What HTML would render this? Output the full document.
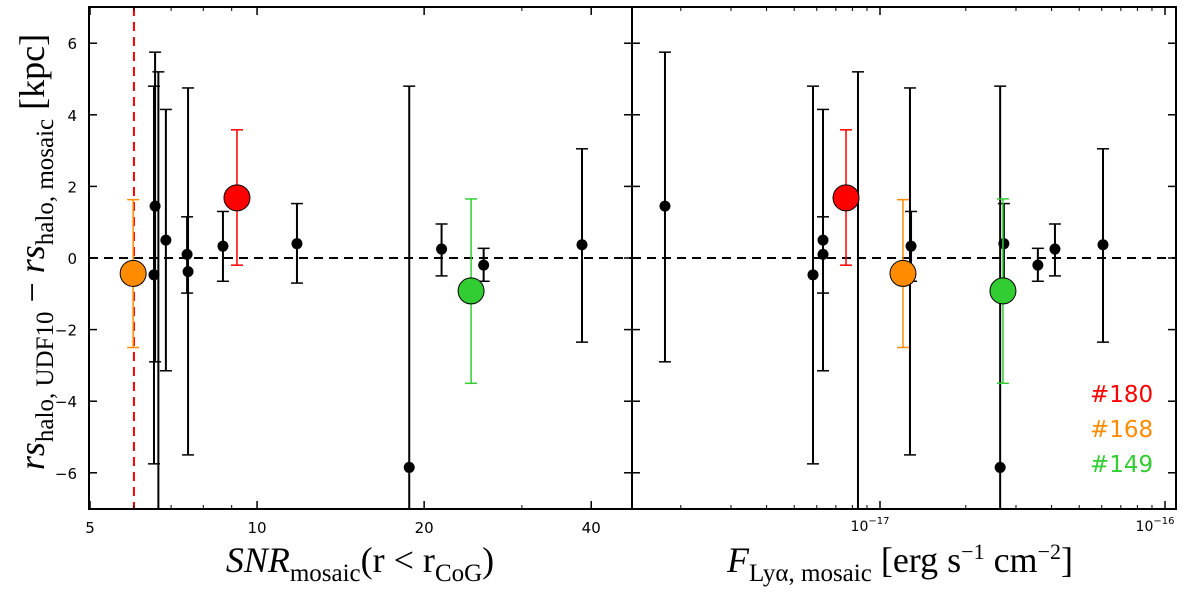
<!DOCTYPE html>
<html><head><meta charset="utf-8"><style>
body{margin:0;background:#fff;width:1200px;height:602px;overflow:hidden}
svg text{font-family:"DejaVu Sans","Liberation Sans",sans-serif}
.ser{font-family:"Liberation Serif","DejaVu Serif",serif}
</style></head><body>
<svg id="chart" width="1200" height="602" xmlns="http://www.w3.org/2000/svg">
<g id="plot"></g>
<text class="ser" transform="translate(44,252) rotate(-90)" text-anchor="middle" font-size="36"><tspan font-style="italic">rs</tspan><tspan font-size="25" dy="9">halo, UDF10</tspan><tspan dy="-9"> − </tspan><tspan font-style="italic">rs</tspan><tspan font-size="25" dy="9">halo, mosaic</tspan><tspan dy="-9"> [kpc]</tspan></text>
<text class="ser" x="360" y="572" text-anchor="middle" font-size="36"><tspan font-style="italic">SNR</tspan><tspan font-size="25" dy="9">mosaic</tspan><tspan dy="-9">(r &lt; r</tspan><tspan font-size="25" dy="9">CoG</tspan><tspan dy="-9">)</tspan></text>
<text class="ser" x="900" y="572" text-anchor="middle" font-size="36"><tspan font-style="italic">F</tspan><tspan font-size="25" dy="9">Lyα, mosaic</tspan><tspan dy="-9"> [erg s</tspan><tspan font-size="22" dy="-13">−1</tspan><tspan dy="13"> cm</tspan><tspan font-size="22" dy="-13">−2</tspan><tspan dy="13">]</tspan></text>
<text x="1090" y="402" font-size="23" fill="#ff0000">#180</text>
<text x="1090" y="437" font-size="23" fill="#ff8c00">#168</text>
<text x="1090" y="472" font-size="23" fill="#32cd32">#149</text>
</svg>
<script>
const snr   = [6.55,6.52,6.64,6.85,7.48,7.51,8.68,11.8,18.8,21.5,25.6,38.5];
const flux  = [0.176,0.582,0.837,0.631,0.631,1.274,1.285,2.72,2.64,4.11,3.58,6.06];
const rs    = [1.45,-0.47,-8,0.5,0.1,-0.38,0.33,0.4,-5.85,0.25,-0.2,0.37];
const errLo = [-2.9,-5.75,-9,-3.15,-0.98,-5.5,-0.65,-0.7,-9,-0.5,-0.65,-2.35];
const errHi = [5.75,4.8,5.2,4.15,1.15,4.75,1.3,1.52,4.8,0.95,0.27,3.05];
const hlIds   = ["180","168","149"];
const hlColors= ["#ff0000","#ff8c00","#32cd32"];
const hlSnr   = [9.2,5.98,24.3];
const hlFlux  = [0.76,1.204,2.70];
const hlRs    = [1.68,-0.43,-0.92];
const hlLo    = [-0.2,-2.5,-3.5];
const hlHi    = [3.58,1.63,1.65];
const snrCut = 6.0;
const yTicks=[-6,-4,-2,0,2,4,6];
const snrTicks=[5,10,20,40];
const snrTickLabels=["5","10","20","40"];

const NS="http://www.w3.org/2000/svg";
const plot=document.getElementById('plot');
const T=7,B=509;
const L1=89,R1=632,L2=632,R2=1176;
const yS=v=>258-v*35.8;
const xS1=v=>90+555*Math.log10(v/5);
const xS2=v=>880+285*Math.log10(v);
function mk(tag,at,parent){const e=document.createElementNS(NS,tag);for(const k in at)e.setAttribute(k,at[k]);(parent||plot).appendChild(e);return e;}
function panel(id,L,R,xS,xs,ys,los,his,clip){
  const g=mk('g',{'clip-path':'url(#'+clip+')'});
  
  
  mk('line',{x1:L,x2:R,y1:yS(0),y2:yS(0),stroke:'#000','stroke-width':2,'stroke-dasharray':'9,6'},g);
  for(let i=0;i<xs.length;i++){
    const x=xS(xs[i]);
    const b=mk('line',{x1:x,x2:x,y1:yS(his[i]),y2:yS(los[i]),stroke:'#000','stroke-width':2},g);
    
    
    mk('line',{x1:x-6,x2:x+6,y1:yS(his[i]),y2:yS(his[i]),stroke:'#000','stroke-width':1.5},g);
    mk('line',{x1:x-6,x2:x+6,y1:yS(los[i]),y2:yS(los[i]),stroke:'#000','stroke-width':1.5},g);
    const c=mk('circle',{cx:x,cy:yS(ys[i]),r:5.5,fill:'#000'},g);
    
    
  }
  return g;
}
const defs=mk('defs',{});
const c1=mk('clipPath',{id:'c1'},defs);mk('rect',{x:L1,y:T,width:R1-L1,height:B-T},c1);
const c2=mk('clipPath',{id:'c2'},defs);mk('rect',{x:L2,y:T,width:R2-L2,height:B-T},c2);
const g1=panel('snr',L1,R1,xS1,snr,rs,errLo,errHi,'c1');
const g2=panel('flux',L2,R2,xS2,flux,rs,errLo,errHi,'c2');
const cut=mk('line',{x1:xS1(snrCut),x2:xS1(snrCut),y1:T,y2:B,stroke:'#ff0000','stroke-width':2,'stroke-dasharray':'9,6'},g1);


function hl(g,xS,xs){
  for(let i=0;i<hlIds.length;i++){
    const x=xS(xs[i]),col=hlColors[i];
    mk('line',{x1:x,x2:x,y1:yS(hlHi[i]),y2:yS(hlLo[i]),stroke:col,'stroke-width':1.5},g);
    mk('line',{x1:x-6,x2:x+6,y1:yS(hlHi[i]),y2:yS(hlHi[i]),stroke:col,'stroke-width':1.5},g);
    mk('line',{x1:x-6,x2:x+6,y1:yS(hlLo[i]),y2:yS(hlLo[i]),stroke:col,'stroke-width':1.5},g);
    const c=mk('circle',{cx:x,cy:yS(hlRs[i]),r:13,fill:col,stroke:'#000','stroke-width':1},g);
    
    
  }
}
hl(g1,xS1,hlSnr);hl(g2,xS2,hlFlux);
function frame(L,R,name){
  const r=mk('rect',{x:L,y:T,width:R-L,height:B-T,fill:'none',stroke:'#000','stroke-width':2});
  
  
  yTicks.forEach(v=>{
    mk('line',{x1:L,x2:L+8,y1:yS(v),y2:yS(v),stroke:'#000','stroke-width':1.5});
    mk('line',{x1:R-8,x2:R,y1:yS(v),y2:yS(v),stroke:'#000','stroke-width':1.5});
  });
}
frame(L1,R1,'snr-panel');frame(L2,R2,'flux-panel');
yTicks.forEach(v=>{
  const t=mk('text',{x:L1-12,y:yS(v)+6,'text-anchor':'end','font-size':15});
  t.textContent=(v<0?'−':'')+Math.abs(v);
  
  
});
snrTicks.forEach((v,i)=>{
  const x=xS1(v);
  mk('line',{x1:x,x2:x,y1:B-8,y2:B,stroke:'#000','stroke-width':1.5});
  mk('line',{x1:x,x2:x,y1:T,y2:T+8,stroke:'#000','stroke-width':1.5});
  const t=mk('text',{x:x,y:B+24,'text-anchor':'middle','font-size':15});
  t.textContent=snrTickLabels[i];
  
  
});
[6,7,8,9,30].forEach(v=>{const x=xS1(v);mk('line',{x1:x,x2:x,y1:B-4,y2:B,stroke:'#000'});mk('line',{x1:x,x2:x,y1:T,y2:T+4,stroke:'#000'});});
[0.2,0.3,0.4,0.5,0.6,0.7,0.8,0.9,2,3,4,5,6,7,8,9].forEach(v=>{const x=xS2(v);if(x>L2&&x<R2){mk('line',{x1:x,x2:x,y1:B-4,y2:B,stroke:'#000'});mk('line',{x1:x,x2:x,y1:T,y2:T+4,stroke:'#000'});}});
[[1,'−17'],[10,'−16']].forEach(([v,e])=>{
  const x=xS2(v);
  mk('line',{x1:x,x2:x,y1:B-8,y2:B,stroke:'#000','stroke-width':1.5});
  mk('line',{x1:x,x2:x,y1:T,y2:T+8,stroke:'#000','stroke-width':1.5});
  const t=mk('text',{x:x-10,y:B+22,'text-anchor':'middle','font-size':14});
  t.innerHTML='10<tspan font-size="10" dy="-7">'+e+'</tspan>';
  
  
});
</script>
</body></html>
